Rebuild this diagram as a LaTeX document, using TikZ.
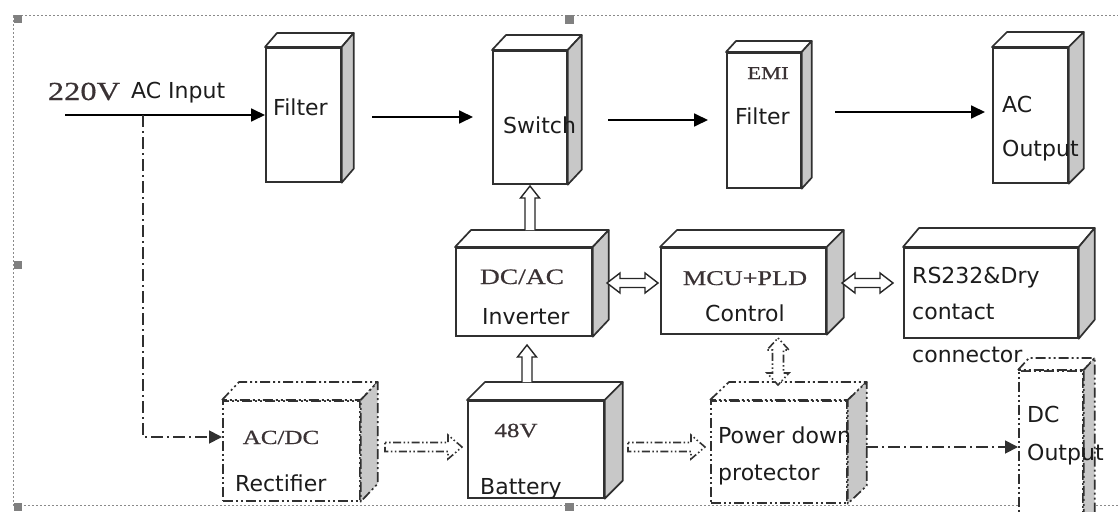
\documentclass[tikz,border=0pt]{standalone}
\usepackage{fontspec}
\setmainfont{DejaVu Sans}
\newfontfamily\serw[FakeStretch=1.25,FakeBold=0.6]{Liberation Serif}
\usetikzlibrary{arrows.meta,calc}
\definecolor{boxc}{HTML}{303030}
\definecolor{sidegray}{HTML}{C8C8C8}
\definecolor{txtc}{HTML}{1C1C1C}
\definecolor{sertc}{HTML}{3A3234}
\definecolor{framec}{HTML}{8A8A8A}
\definecolor{markc}{HTML}{808080}
\newcommand\sansfs{\fontsize{22}{26}\selectfont}
% box with 3D faces: [style]{name}{x1}{y1}{x2}{y2}{dx}{dy}
\newcommand\mkbox[8][]{%
  \node[box,#1,minimum width={#5-#3},minimum height={#6-#4}] (#2) at (#3,#4) {};
  \draw[boxline,#1,fill=white] (#2.north west) -- ++(#7,#8) -- ($(#2.north east)+(#7,#8)$) -- (#2.north east) -- cycle;
  \draw[boxline,#1,fill=sidegray] (#2.north east) -- ++(#7,#8) -- ($(#2.south east)+(#7,#8)$) -- (#2.south east) -- cycle;}
% hollow block arrows: [style]{A}{B}{shaft half}{head half}{head length}
\newcommand\hollowR[6][]{\draw[hollow,#1] ($(#2)+(0,-#4)$) -- ($(#3)+(-#6,-#4)$) -- ($(#3)+(-#6,-#5)$) -- (#3) -- ($(#3)+(-#6,#5)$) -- ($(#3)+(-#6,#4)$) -- ($(#2)+(0,#4)$) -- cycle;}
\newcommand\hollowLR[6][]{\draw[hollow,#1] (#2) -- ($(#2)+(#6,-#5)$) -- ($(#2)+(#6,-#4)$) -- ($(#3)+(-#6,-#4)$) -- ($(#3)+(-#6,-#5)$) -- (#3) -- ($(#3)+(-#6,#5)$) -- ($(#3)+(-#6,#4)$) -- ($(#2)+(#6,#4)$) -- ($(#2)+(#6,#5)$) -- cycle;}
\newcommand\hollowU[6][]{\draw[hollow,#1] ($(#2)+(-#4,0)$) -- ($(#3)+(-#4,#6)$) -- ($(#3)+(-#5,#6)$) -- (#3) -- ($(#3)+(#5,#6)$) -- ($(#3)+(#4,#6)$) -- ($(#2)+(#4,0)$);}
\newcommand\hollowUD[6][]{\draw[hollow,#1] (#2) -- ($(#2)+(#5,#6)$) -- ($(#2)+(#4,#6)$) -- ($(#3)+(#4,-#6)$) -- ($(#3)+(#5,-#6)$) -- (#3) -- ($(#3)+(-#5,-#6)$) -- ($(#3)+(-#4,-#6)$) -- ($(#2)+(-#4,#6)$) -- ($(#2)+(-#5,#6)$) -- cycle;}
\begin{document}
\begin{tikzpicture}[x=1pt,y=-1pt,
  box/.style={draw=boxc,line width=1.7pt,fill=white,inner sep=0pt,anchor=north west,shape=rectangle},
  boxline/.style={draw=boxc,line width=1.7pt,line join=round},
  dbox/.style={dash pattern=on 10pt off 3pt on 2pt off 3pt on 2pt off 3pt,draw=boxc},
  arr/.style={draw=black,line width=1.8pt,-{Triangle[length=14pt,width=13pt]}},
  darr/.style={draw=boxc,line width=1.8pt,dash pattern=on 12pt off 4pt on 2pt off 4pt,-{Triangle[length=13pt,width=13pt]}},
  hollow/.style={draw=black!85,line width=1.4pt,fill=white,line join=miter},
  dhollow/.style={draw=black!80,line width=1.6pt,dash pattern=on 1.5pt off 2.5pt on 1.5pt off 2.5pt on 8pt off 2.5pt},
  sans/.style={inner sep=0pt,anchor=base west,font=\sansfs,text=txtc},
  ser/.style={inner sep=0pt,anchor=base,text=sertc}]
\useasboundingbox (0,0) rectangle (1118,511);
% frame
\draw[framec,line width=1pt,dash pattern=on 2pt off 2pt] (13,16) -- (1130,16) (13,16) -- (13,505) -- (1130,505);
\fill[markc] (14,15) rectangle (22,23);
\fill[markc] (565,15) rectangle (574,24);
\fill[markc] (14,261) rectangle (22,269);
\fill[markc] (14,503) rectangle (22,511);
\fill[markc] (565,503) rectangle (574,511);
% boxes
\mkbox{filter}{265}{47}{340}{181}{12}{-14}
\mkbox{switch}{492}{50}{566}{183}{14}{-15}
\mkbox{emi}{726}{52}{800}{187}{10}{-11}
\mkbox{acout}{992}{47}{1067}{182}{15}{-15}
\mkbox{inv}{455}{247}{591}{335}{16}{-17}
\mkbox{mcu}{660}{247}{825}{333}{17}{-17}
\mkbox{rs}{903}{247}{1077}{337}{16}{-19}
\mkbox{bat}{467}{400}{603}{497}{18}{-18}
\mkbox[dbox]{rect}{222}{400}{359}{500}{17}{-18}
\mkbox[dbox]{pdp}{710}{400}{846}{502}{19}{-18}
\mkbox[dbox]{dcout}{1018}{370}{1082}{530}{11}{-12}
% texts
\node[ser,font=\serw\fontsize{26}{30}\selectfont] (t220) at (84,100) {220V};
\node[sans] (tacin) at (131,98) {AC Input};
\node[sans] (tfil) at (273,115) {Filter};
\node[sans] (tsw) at (503,133) {Switch};
\node[ser,font=\serw\fontsize{18}{22}\selectfont] (temi) at (768,79) {EMI};
\node[sans] (tfil2) at (735,124) {Filter};
\node[sans] (tac) at (1002,112) {AC};
\node[sans] (tout) at (1002,156) {Output};
\node[ser,font=\serw\fontsize{22}{26}\selectfont] (tdcac) at (522,284) {DC/AC};
\node[sans] (tinv) at (482,324) {Inverter};
\node[ser,font=\serw\fontsize{21}{25}\selectfont] (tmcu) at (745,285) {MCU+PLD};
\node[sans] (tctl) at (705,321) {Control};
\node[sans] (trs1) at (912,283) {RS232\&Dry};
\node[sans] (trs2) at (912,319) {contact};
\node[sans] (trs3) at (912,362) {connector};
\node[ser,font=\serw\fontsize{20}{24}\selectfont] (tacdc) at (281,444) {AC/DC};
\node[sans] (trect) at (235,491) {Rectifier};
\node[ser,font=\serw\fontsize{20}{24}\selectfont] (t48) at (516,437) {48V};
\node[sans] (tbat) at (480,494) {Battery};
\node[sans] (tpd1) at (718,443) {Power down};
\node[sans] (tpd2) at (718,480) {protector};
\node[sans] (tdc) at (1027,422) {DC};
\node[sans] (tout2) at (1027,460) {Output};
% solid arrows
\coordinate (inp) at (65,115);
\coordinate (br) at (143,115);
\draw[arr] (inp) -- (inp -| filter.west);
\coordinate (fs1) at (372,117); \coordinate (fs2) at (473,117);
\draw[arr] (fs1) -- (fs2);
\coordinate (se1) at (608,120); \coordinate (se2) at (708,120);
\draw[arr] (se1) -- (se2);
\coordinate (ea1) at (835,112); \coordinate (ea2) at (985,112);
\draw[arr] (ea1) -- (ea2);
% dash-dot arrows
\coordinate (brend) at (143,437);
\draw[darr] (br) -- (brend) -- (brend -| rect.west);
\coordinate (pd1) at (866,447);
\draw[darr] (pd1) -- (pd1 -| dcout.west);
% hollow arrows
\coordinate (u1a) at (530,230); \coordinate (u1b) at (530,186);
\hollowU{u1a}{u1b}{5}{9.5}{12}
\coordinate (u2a) at (527,382); \coordinate (u2b) at (527,345);
\hollowU{u2a}{u2b}{5}{9.5}{12}
\coordinate (h1a) at (607,283); \coordinate (h1b) at (658,283);
\hollowLR{h1a}{h1b}{4.5}{10}{13}
\coordinate (h2a) at (842,283); \coordinate (h2b) at (893,283);
\hollowLR{h2a}{h2b}{4.5}{10}{13}
\coordinate (v1a) at (778,338); \coordinate (v1b) at (778,385);
\hollowUD[dhollow]{v1a}{v1b}{5.5}{11}{12}
\coordinate (r1a) at (385,447); \coordinate (r1b) at (462,447);
\hollowR[dhollow]{r1a}{r1b}{4.5}{12}{14}
\coordinate (r2a) at (628,447); \coordinate (r2b) at (705,447);
\hollowR[dhollow]{r2a}{r2b}{4.5}{12}{14}
\end{tikzpicture}
\end{document}
